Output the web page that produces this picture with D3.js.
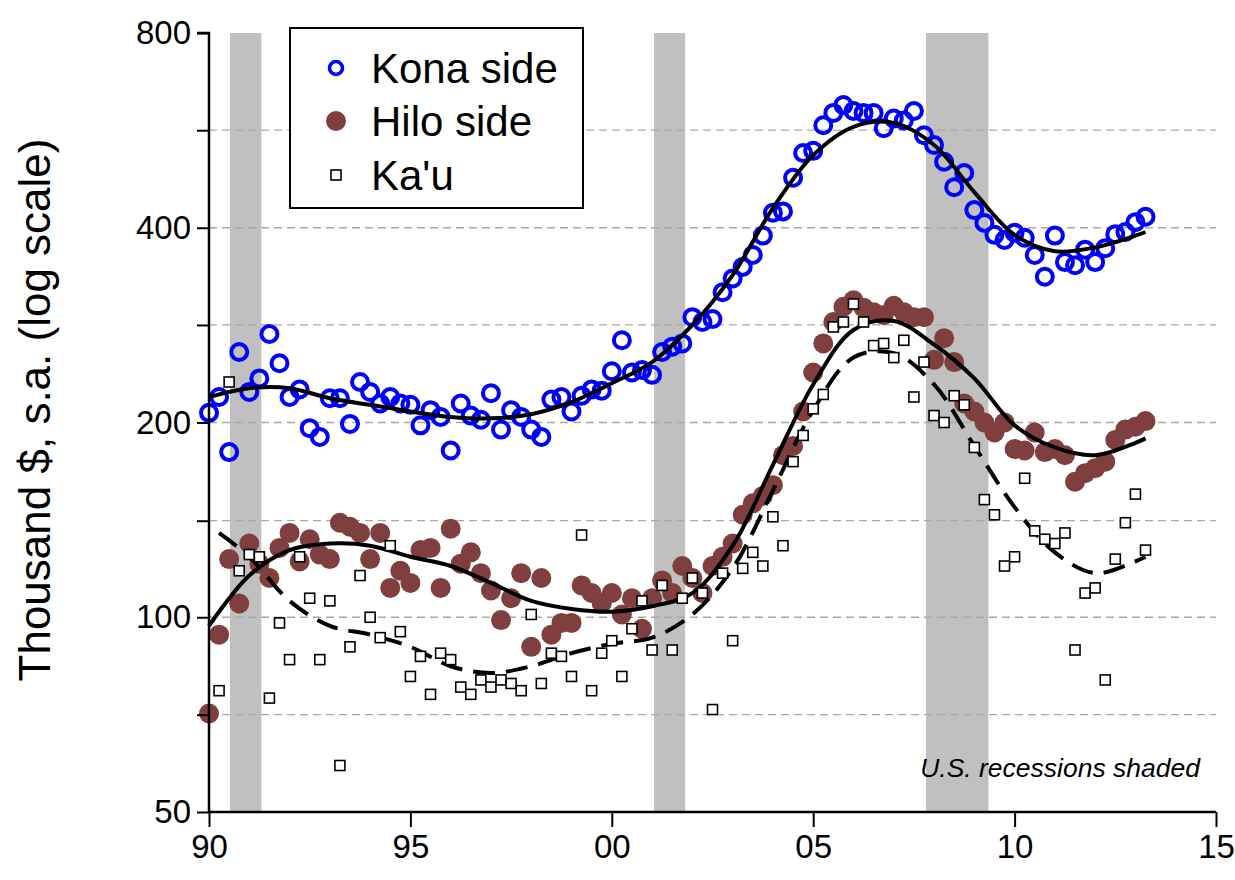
<!DOCTYPE html>
<html>
<head>
<meta charset="utf-8">
<script src="https://cdn.jsdelivr.net/npm/d3@7"></script>
<style>
  body { margin: 0; background: #fff; }
  svg { display: block; font-family: "Liberation Sans", Arial, sans-serif; }
</style>
</head>
<body>
<svg id="chart"></svg>
<script>
// quarterly data, 1990Q1 .. 2013Q2
const startYear = 1990;

const kona = [
  207, 219, 180, 257, 223, 234, 274, 247, 219, 225,
  196, 190, 218, 218, 199, 231, 223, 214, 219, 214,
  213, 198, 209, 204, 181, 214, 205, 202, 222, 195,
  209, 204, 195, 190, 217, 219, 208, 220, 225, 224,
  240, 268, 239, 241, 237, 257, 262, 265, 291, 286,
  289, 318, 334, 348, 363, 389, 422, 424, 478, 522,
  526, 576, 602, 619, 606, 602, 602, 570, 590, 586,
  606, 556, 537, 506, 462, 486, 426, 407, 390, 383,
  393, 386, 363, 336, 389, 354, 350, 370, 354, 372,
  391, 394, 408, 416
];

const hilo = [
  71, 94, 123, 105, 130, 121, 115, 128, 135, 122,
  132, 125, 123, 140, 138, 135, 123, 135, 111, 118,
  113, 127, 128, 111, 137, 121, 126, 117, 110, 99,
  107, 117, 90, 115, 94, 98, 98, 112, 109, 105,
  109, 101, 107, 96, 107, 114, 109, 120, 115, 109,
  120, 124, 130, 144, 150, 154, 160, 178, 184, 208,
  239, 265, 286, 302, 309, 301, 296, 293, 303, 296,
  291, 291, 250, 270, 248, 214, 208, 200, 193, 200,
  182, 181, 193, 180, 182, 178, 162, 167, 170, 174,
  188, 195, 197, 201
];

// Ka'u starts in 1990Q2
const kau = [
  null, 77, 231, 118, 125, 124, 75, 98, 86, 124,
  107, 86, 106, 59, 90, 116, 100, 93, 129, 95,
  81, 87, 76, 88, 86, 78, 76, 80, 78, 80,
  79, 77, 101, 79, 88, 87, 81, 134, 77, 88,
  92, 81, 96, 106, 89, 112, 89, 107, 115, 109,
  72, 117, 92, 119, 126, 120, 143, 129, 174, 191,
  210, 221, 281, 286, 305, 286, 263, 265, 252, 268,
  219, 248, 205, 200, 220, 213, 183, 152, 144, 120,
  124, 164, 136, 132, 130, 135, 89, 109, 111, 80,
  123, 140, 155, 127
];

// smoothed trends, read at yearly points
const trendYears = [1990, 1991, 1992, 1993, 1994, 1995, 1996, 1997, 1998, 1999, 2000, 2001,
  2002, 2003, 2004, 2005, 2006, 2007, 2008, 2009, 2010, 2011, 2012, 2013, 2013.25];
const konaTrend = [219, 226, 226, 218, 213, 208, 204, 203, 206, 215, 230, 248,
  283, 338, 429, 518, 573, 581, 537, 454, 390, 368, 373, 389, 394];
const hiloTrend = [97, 116, 127, 130, 129, 124, 120, 113, 106, 103, 102, 104,
  109, 129, 172, 229, 278, 287, 264, 234, 198, 183, 178, 186, 189];
const kauTrendYears = [1990.25, 1991, 1992, 1993, 1994, 1995, 1996, 1997, 1998, 1999, 2000, 2001,
  2002, 2003, 2004, 2005, 2006, 2007, 2008, 2009, 2010, 2011, 2012, 2013, 2013.25];
const kauTrend = [135, 124, 106, 97, 94, 90, 84, 82, 84, 88, 91, 93,
  101, 119, 157, 209, 252, 256, 229, 184, 148, 126, 117, 122, 124];

const recessions = [[1990.52, 1991.3], [2001.05, 2001.82], [2007.8, 2009.35]];

const yMajor = [50, 100, 200, 400, 800];
const yMinor = [70.7, 141, 283, 566];
const xTicks = [1990, 1995, 2000, 2005, 2010, 2015];

const W = 1235, H = 880;
const mLeft = 209, mRight = 1216, mTop = 33, mBottom = 812;
const font = '"Liberation Sans", Arial, sans-serif';

const svg = d3.select('#chart')
  .attr('width', W)
  .attr('height', H);

const x = d3.scaleLinear().domain([1990, 2015]).range([mLeft, mRight]);
const y = d3.scaleLog().domain([50, 800]).range([mBottom, mTop]);

// recession shading
svg.append('g').selectAll('rect')
  .data(recessions)
  .join('rect')
  .attr('x', d => x(d[0]))
  .attr('y', mTop)
  .attr('width', d => x(d[1]) - x(d[0]))
  .attr('height', mBottom - mTop)
  .attr('fill', '#c0c0c0');

// dashed grid lines
svg.append('g').selectAll('line')
  .data(yMajor.slice(1, -1).concat(yMinor))
  .join('line')
  .attr('x1', mLeft)
  .attr('x2', mRight)
  .attr('y1', d => y(d))
  .attr('y2', d => y(d))
  .attr('stroke', '#a8a8a8')
  .attr('stroke-width', 1.3)
  .attr('stroke-dasharray', '8,5');

const q = i => startYear + i / 4;

// Kona: open blue circles
svg.append('g').selectAll('circle')
  .data(kona)
  .join('circle')
  .attr('cx', (d, i) => x(q(i)))
  .attr('cy', d => y(d))
  .attr('r', 8)
  .attr('fill', 'none')
  .attr('stroke', '#0000ff')
  .attr('stroke-width', 4);

// Hilo: filled brown circles
svg.append('g').selectAll('circle')
  .data(hilo)
  .join('circle')
  .attr('cx', (d, i) => x(q(i)))
  .attr('cy', d => y(d))
  .attr('r', 10)
  .attr('fill', '#7f3f3f');

// trend lines
const line = d3.line()
  .x(d => x(d[0]))
  .y(d => y(d[1]))
  .curve(d3.curveCatmullRom.alpha(0.5));

svg.append('path')
  .attr('d', line(d3.zip(trendYears, konaTrend)))
  .attr('fill', 'none')
  .attr('stroke', '#000')
  .attr('stroke-width', 4);

svg.append('path')
  .attr('d', line(d3.zip(trendYears, hiloTrend)))
  .attr('fill', 'none')
  .attr('stroke', '#000')
  .attr('stroke-width', 4);

svg.append('path')
  .attr('d', line(d3.zip(kauTrendYears, kauTrend)))
  .attr('fill', 'none')
  .attr('stroke', '#000')
  .attr('stroke-width', 4)
  .attr('stroke-dasharray', '22,11');

// Ka'u: open squares
const sq = 10;
svg.append('g').selectAll('rect')
  .data(kau.map((v, i) => [q(i), v]).filter(d => d[1] != null))
  .join('rect')
  .attr('x', d => x(d[0]) - sq / 2)
  .attr('y', d => y(d[1]) - sq / 2)
  .attr('width', sq)
  .attr('height', sq)
  .attr('fill', '#fff')
  .attr('stroke', '#000')
  .attr('stroke-width', 1.6);

// axes
const yAxis = svg.append('g')
  .attr('transform', `translate(${mLeft},0)`)
  .call(d3.axisLeft(y).tickValues(yMajor.concat(yMinor))
    .tickFormat(d => yMajor.includes(d) ? d : '')
    .tickSize(12).tickPadding(6));
yAxis.select('.domain').attr('stroke', '#000').attr('stroke-width', 2.5)
  .attr('d', `M-12,${mTop}H0V${mBottom}`);
yAxis.selectAll('.tick line').attr('stroke', '#000').attr('stroke-width', 2);
yAxis.selectAll('text').attr('font-size', 33).attr('font-family', font).attr('fill', '#000');

const xAxis = svg.append('g')
  .attr('transform', `translate(0,${mBottom})`)
  .call(d3.axisBottom(x).tickValues(xTicks)
    .tickFormat(d => String(d % 100).padStart(2, '0'))
    .tickSize(15).tickPadding(8));
xAxis.select('.domain').attr('stroke', '#000').attr('stroke-width', 2.5)
  .attr('d', `M${mLeft},0H${mRight}`);
xAxis.selectAll('.tick line').attr('stroke', '#000').attr('stroke-width', 2);
xAxis.selectAll('text').attr('font-size', 33).attr('font-family', font).attr('fill', '#000');

// y axis title
svg.append('text')
  .attr('transform', 'translate(50,410) rotate(-90)')
  .attr('text-anchor', 'middle')
  .attr('font-size', 44)
  .attr('fill', '#000')
  .text('Thousand $, s.a. (log scale)');

// note
svg.append('text')
  .attr('x', 1200)
  .attr('y', 777)
  .attr('text-anchor', 'end')
  .attr('font-size', 26.5)
  .attr('font-style', 'italic')
  .attr('fill', '#000')
  .text('U.S. recessions shaded');

// legend
const lg = svg.append('g');
lg.append('rect')
  .attr('x', 290).attr('y', 28)
  .attr('width', 293).attr('height', 180)
  .attr('fill', '#fff')
  .attr('stroke', '#000')
  .attr('stroke-width', 2);

const legendRows = [
  { label: 'Kona side', y: 68 },
  { label: 'Hilo side', y: 121 },
  { label: "Ka'u", y: 175 }
];
lg.append('circle').attr('cx', 336).attr('cy', legendRows[0].y).attr('r', 6.5)
  .attr('fill', 'none').attr('stroke', '#0000ff').attr('stroke-width', 3.5);
lg.append('circle').attr('cx', 336).attr('cy', legendRows[1].y).attr('r', 10)
  .attr('fill', '#7f3f3f');
lg.append('rect').attr('x', 331).attr('y', legendRows[2].y - 5).attr('width', 10).attr('height', 10)
  .attr('fill', '#fff').attr('stroke', '#000').attr('stroke-width', 1.6);

lg.selectAll('text')
  .data(legendRows)
  .join('text')
  .attr('x', 371)
  .attr('y', d => d.y + 15)
  .attr('font-size', 42)
  .attr('fill', '#000')
  .text(d => d.label);
</script>
</body>
</html>
